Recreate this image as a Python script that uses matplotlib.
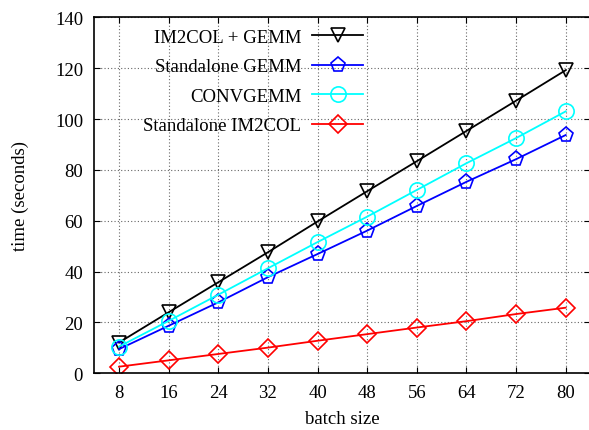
import matplotlib
matplotlib.use("Agg")
import matplotlib.pyplot as plt

# batch sizes and measured times (seconds)
batch_size = [8, 16, 24, 32, 40, 48, 56, 64, 72, 80]
im2col_gemm = [12.1, 24.0, 35.8, 47.6, 59.7, 71.6, 83.4, 95.3, 107.2, 119.2]
standalone_gemm = [9.5, 18.7, 27.9, 37.8, 46.9, 56.1, 65.8, 75.3, 84.2, 93.7]
convgemm = [10.5, 20.6, 30.9, 41.3, 51.6, 61.6, 72.1, 82.6, 92.5, 103.0]
standalone_im2col = [2.6, 5.1, 7.6, 10.1, 12.8, 15.4, 18.0, 20.5, 23.3, 25.8]

x_ticks = [8, 16, 24, 32, 40, 48, 56, 64, 72, 80]
y_ticks = [0, 20, 40, 60, 80, 100, 120, 140]

plt.rcParams["font.family"] = ["Liberation Serif", "DejaVu Serif"]
plt.rcParams["font.size"] = 13.5

fig = plt.figure(figsize=(5.89, 4.31), dpi=100)
ax = fig.add_axes([94.2 / 589, 56.7 / 431, (590.5 - 94.2) / 589, (412.7 - 56.7) / 431])

series = [
    ("IM2COL + GEMM", im2col_gemm, "black", "v"),
    ("Standalone GEMM", standalone_gemm, "blue", "p"),
    ("CONVGEMM", convgemm, "cyan", "o"),
    ("Standalone IM2COL", standalone_im2col, "red", "D"),
]
sizes = {"v": 10, "p": 11, "o": 11, "D": 9}

for label, vals, color, marker in series:
    ax.plot(batch_size, vals, color=color, lw=1.3, marker=marker,
            ms=sizes[marker], mfc="none", mec=color, mew=1.2, label=label)

ax.set_xlim(4, 84)
ax.set_ylim(0, 140)
ax.set_xticks(x_ticks)
ax.set_yticks(y_ticks)
ax.tick_params(direction="in", length=4, width=0.8, top=True, right=True, pad=8)
ax.grid(True, linestyle=(0, (1, 2)), color="#666666", lw=0.8)
for s in ax.spines.values():
    s.set_linewidth(1.2)

ax.set_xlabel("batch size", labelpad=6)
ax.set_ylabel("time (seconds)", labelpad=19)

ax.legend(loc="upper left", bbox_to_anchor=(0.076, 1.0), markerfirst=False,
          frameon=False, handlelength=2.7, handletextpad=0.6,
          labelspacing=0.66, borderpad=0.1)

fig.savefig("out.png", dpi=100)
